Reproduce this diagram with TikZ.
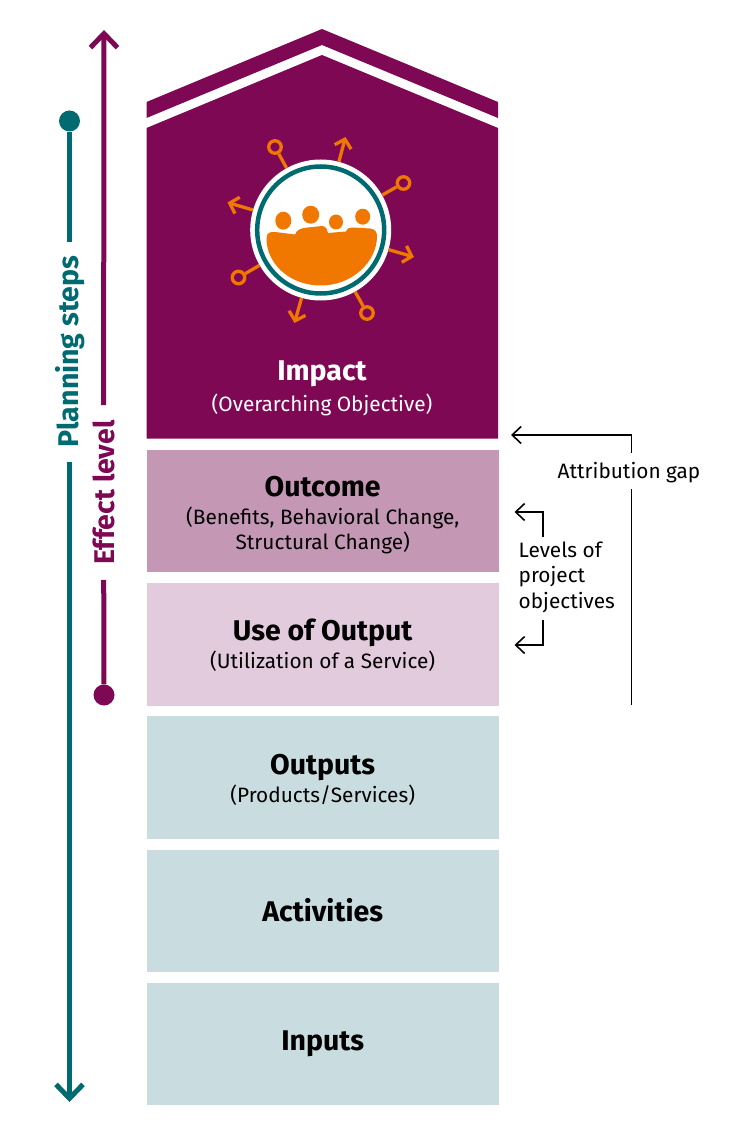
\documentclass[tikz,border=0pt]{standalone}
\usepackage{fontspec}
\setmainfont{Fira Sans}
\usetikzlibrary{positioning, arrows.meta}

\definecolor{impactcol}{HTML}{7F0855}
\definecolor{outcomecol}{HTML}{C498B5}
\definecolor{usecol}{HTML}{E2CBDC}
\definecolor{planbox}{HTML}{C9DCE0}
\definecolor{planteal}{HTML}{006A71}
\definecolor{iconorange}{HTML}{F07800}
\newcommand{\headfont}{\fontsize{28.5}{32}\selectfont\bfseries}
\newcommand{\subfont}{\fontsize{20.8}{25}\selectfont}

\begin{document}
\begin{tikzpicture}[
        x=1pt, y=-1pt,
        node distance=10.5pt and 10pt,
        levelbox/.style={rectangle, minimum width=352pt, minimum height=122.2pt, inner sep=0pt, font=\headfont},
        boxtext/.style={inner sep=0pt, align=center, font=\subfont},
        toplabel/.style={text=white, inner sep=0pt, align=center},
        sidelabel/.style={rotate=90, inner sep=0pt, outer sep=15.5pt, font=\fontsize{28.5}{32}\selectfont\bfseries},
        enddot/.style={circle, minimum size=21pt, inner sep=0pt},
        notelabel/.style={font=\fontsize{20.8}{25.5}\selectfont, inner sep=0pt, align=left},
        noteline/.style={draw=black, line width=1.6pt, -{Straight Barb[length=9pt, width=17pt, line width=1.6pt]}},
        sideline/.style={-{Straight Barb[length=14pt, width=27pt, line width=5pt]}},
        spoke/.style={draw=iconorange, line width=3.3pt},
        spokearrow/.style={spoke, -{Straight Barb[length=8pt, width=17pt, line width=3.3pt]}},
        spokering/.style={circle, draw=iconorange, line width=3.3pt, minimum size=12.5pt, inner sep=0pt}
    ]
    \useasboundingbox (0,0) rectangle (746,1147);

    % Roof and impact block
    \fill[impactcol] (146.5,102) -- (322,29) -- (498,102) -- (498,118) -- (322,45) -- (146.5,118) -- cycle;
    \fill[impactcol] (146.5,128) -- (322,55) -- (498,128) -- (498,438.5) -- (146.5,438.5) -- cycle;

    % Level boxes
    \node[levelbox, fill=outcomecol, anchor=north west] (outcome) at (146.5,450) {};
    \node[levelbox, fill=usecol, below=of outcome] (useout) {};
    \node[levelbox, fill=planbox, below=of useout] (outputs) {};
    \node[levelbox, fill=planbox, below=of outputs] (activities) {Activities};
    \node[levelbox, fill=planbox, below=of activities] (inputs) {Inputs};

    % Box texts
    \node[boxtext] (outcometext) at ([yshift=-3.5pt]outcome.center) {{\headfont Outcome}\\[3pt](Benefits, Behavioral Change,\\Structural Change)};
    \node[boxtext] (usetext) at ([yshift=-1.1pt]useout.center) {{\headfont Use of Output}\\[3pt](Utilization of a Service)};
    \node[boxtext] (outputstext) at ([yshift=-2.6pt]outputs.center) {{\headfont Outputs}\\[3pt](Products/Services)};

    % Impact text
    \node[toplabel, font=\headfont] (impact) at (322,374) {Impact};
    \node[toplabel, font=\subfont] (impactsub) at (322,405) {(Overarching Objective)};

    % Spokes of the icon
    \node[spokering] (ringa) at (275,147) {};
    \node[spokering] (ringb) at (403.5,183) {};
    \node[spokering] (ringc) at (367,313) {};
    \node[spokering] (ringd) at (238.5,277.5) {};
    \coordinate (tipa) at (345.5,137);
    \coordinate (tipb) at (414,257);
    \coordinate (tipc) at (294.5,323);
    \coordinate (tipd) at (227.5,202.5);
    \node[circle, fill=white, minimum size=141pt, inner sep=0pt] (iconbg) at (320.7,230) {};
    \draw[spoke] (ringa) -- (iconbg);
    \draw[spoke] (ringb) -- (iconbg);
    \draw[spoke] (ringc) -- (iconbg);
    \draw[spoke] (ringd) -- (iconbg);
    \draw[spokearrow] (iconbg) -- (tipa);
    \draw[spokearrow] (iconbg) -- (tipb);
    \draw[spokearrow] (iconbg) -- (tipc);
    \draw[spokearrow] (iconbg) -- (tipd);

    % Icon
    \draw[planteal, line width=4.5pt] (iconbg) circle (63.5pt);
    \fill[iconorange] (283.3,220.7) ellipse (8pt and 9pt);
    \fill[iconorange] (310.7,214.7) ellipse (8.5pt and 9pt);
    \fill[iconorange] (336,222) ellipse (7pt and 7.5pt);
    \fill[iconorange] (362.7,216.7) ellipse (7.5pt and 8pt);
    \fill[iconorange] (266.5,238) .. controls (267,232) and (270,232) .. (275,232)
        -- (295,234.5) .. controls (297,229) and (302,228) .. (308,227.5)
        -- (322,226) .. controls (327,226) and (327,231) .. (328,233)
        -- (346,231.5) .. controls (347,228) and (350,227.5) .. (353,227.5)
        -- (370,228.5) .. controls (375,229) and (377,232) .. (377,236)
        .. controls (377,262) and (352,285.5) .. (321,285.5)
        .. controls (288,285.5) and (266,262) .. (266.5,238) -- cycle;

    % Planning steps
    \node[enddot, fill=planteal] (plandot) at (69.5,121) {};
    \node[sidelabel, text=planteal] (planlabel) at (70.5,351.5) {Planning steps};
    \coordinate (planbreaka) at (69.5,242);
    \coordinate (planbreakb) at (69.5,461.5);
    \coordinate (plantip) at (69.5,1102);
    \draw[planteal, line width=5.5pt] (plandot) -- (planbreaka);
    \draw[planteal, line width=5.5pt, sideline] (planbreakb) -- (plantip);

    % Effect level
    \node[enddot, fill=impactcol] (effectdot) at (104,695) {};
    \node[sidelabel, text=impactcol] (effectlabel) at (103.5,492.5) {Effect level};
    \coordinate (effecttip) at (104,30);
    \draw[impactcol, line width=5pt] (effectdot) -- (effectlabel);
    \draw[impactcol, line width=5pt, sideline] (effectlabel) -- (effecttip);

    % Attribution gap
    \node[notelabel] (gaplabel) at (629,472.5) {Attribution gap};
    \coordinate (gapend) at (631.5,705);
    \coordinate (gapbreak) at (631.5,489);
    \coordinate (gapstart) at (631.5,453);
    \coordinate (gaptip) at (511,435);
    \draw[line width=1.6pt] (gapend) -- (gapbreak);
    \draw[noteline] (gapstart) |- (gaptip);

    % Levels of project objectives
    \node[notelabel, anchor=west] (levlabel) at (518.5,577) {Levels of\\project\\objectives};
    \coordinate (levstarta) at (543,537);
    \coordinate (levstartb) at (543,620);
    \coordinate (levtipa) at (514.5,512);
    \coordinate (levtipb) at (514.5,645);
    \draw[noteline] (levstarta) |- (levtipa);
    \draw[noteline] (levstartb) |- (levtipb);

\end{tikzpicture}
\end{document}
